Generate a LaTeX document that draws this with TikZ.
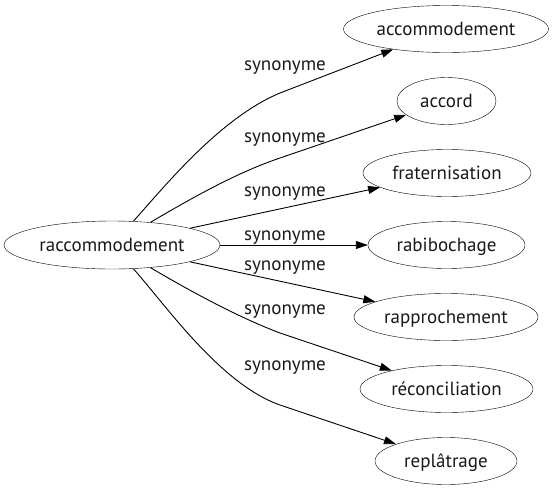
\documentclass[tikz,border=0pt]{standalone}
\usepackage{fontspec}
\setmainfont{PT Sans}
\usetikzlibrary{arrows.meta,shapes.geometric}
\newcommand{\zw}[1]{\makebox[0pt]{#1}}
\begin{document}
\begin{tikzpicture}[x=1pt,y=-1pt,
  word/.style={draw,ellipse,inner sep=0pt,minimum height=47pt,text height=15pt,text depth=3pt,
    font=\fontsize{19}{22}\selectfont,text=black!90},
  lab/.style={font=\fontsize{19}{22}\selectfont,text=black!90,inner sep=0pt,anchor=base},
  syn/.style={-{Triangle[length=12pt,width=8pt]},line width=0.9pt}]
\useasboundingbox (0,0) rectangle (555,491);
\node[word,minimum width=216pt,minimum height=48pt] (src) at (112,245) {\zw{raccommodement}};
\node[word,minimum width=205pt] (t1) at (446,29) {\zw{accommodement}};
\node[word,minimum width=99pt] (t2) at (446.5,101) {\zw{accord}};
\node[word,minimum width=168pt] (t3) at (447,173) {\zw{fraternisation}};
\node[word,minimum width=157pt] (t4) at (446.5,245) {\zw{rabibochage}};
\node[word,minimum width=184pt] (t5) at (446,317) {\zw{rapprochement}};
\node[word,minimum width=173pt] (t6) at (446.5,389) {\zw{réconciliation}};
\node[word,minimum width=142pt] (t7) at (446,461) {\zw{replâtrage}};
\node[lab] (l1) at (285,70.7) {synonyme};
\node[lab] (l2) at (285,142.7) {synonyme};
\node[lab] (l3) at (285,196.7) {synonyme};
\node[lab] (l4) at (285,240.7) {synonyme};
\node[lab] (l5) at (285,270.7) {synonyme};
\node[lab] (l6) at (285,314.3) {synonyme};
\node[lab] (l7) at (285,370.7) {synonyme};
\coordinate (m1) at (280,93);
\coordinate (m2) at (280,158);
\coordinate (m6) at (280,333);
\coordinate (m7) at (280,405);
\draw[syn] (src) .. controls (165,186) and (220,118) .. (m1) -- (t1);
\draw[syn] (src) .. controls (185,202) and (235,173) .. (m2) -- (t2);
\draw[syn] (src) -- (t3);
\draw[syn] (src) -- (t4);
\draw[syn] (src) -- (t5);
\draw[syn] (src) .. controls (185,288) and (235,316) .. (m6) -- (t6);
\draw[syn] (src) .. controls (165,304) and (220,384) .. (m7) -- (t7);
\end{tikzpicture}
\end{document}
